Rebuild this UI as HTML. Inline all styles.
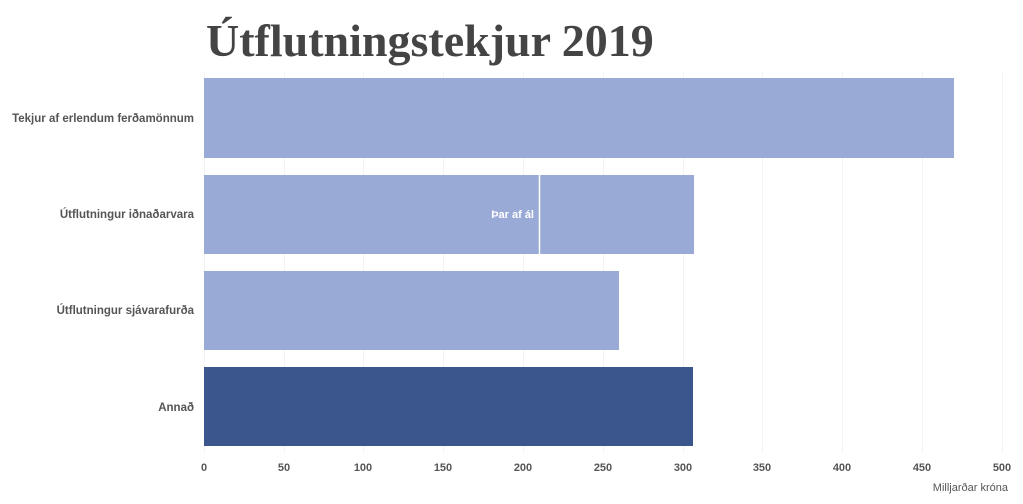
<!DOCTYPE html>
<html><head><meta charset="utf-8"><style>
body{margin:0;background:#fff;width:1023px;height:499px;overflow:hidden}
text{font-family:"Liberation Sans",sans-serif}
</style></head><body>
<svg width="1023" height="499" xmlns="http://www.w3.org/2000/svg">
<text x="206" y="56" font-weight="bold" font-size="46" fill="#444" style="font-family:'Liberation Serif',serif">Útflutningstekjur 2019</text>
<g stroke="#f3f3f3" stroke-width="1">
<line x1="204.5" y1="72" x2="204.5" y2="452"/>
<line x1="284.5" y1="72" x2="284.5" y2="452"/>
<line x1="363.5" y1="72" x2="363.5" y2="452"/>
<line x1="443.5" y1="72" x2="443.5" y2="452"/>
<line x1="523.5" y1="72" x2="523.5" y2="452"/>
<line x1="603.5" y1="72" x2="603.5" y2="452"/>
<line x1="683.5" y1="72" x2="683.5" y2="452"/>
<line x1="762.5" y1="72" x2="762.5" y2="452"/>
<line x1="842.5" y1="72" x2="842.5" y2="452"/>
<line x1="922.5" y1="72" x2="922.5" y2="452"/>
<line x1="1002.5" y1="72" x2="1002.5" y2="452"/>
</g>
<rect x="204" y="78" width="750" height="80" fill="#99aad6"/>
<rect x="204" y="175" width="490" height="79" fill="#99aad6"/>
<line x1="539.5" y1="175" x2="539.5" y2="254" stroke="#fff" stroke-width="1.5"/>
<text x="534" y="218" font-size="11" font-weight="bold" fill="#fff" text-anchor="end">Þar af ál</text>
<rect x="204" y="271" width="415" height="79" fill="#99aad6"/>
<rect x="204" y="367" width="489" height="79" fill="#3b558d"/>
<g font-size="11.5" font-weight="bold" fill="#555" text-anchor="end">
<text x="194" y="122">Tekjur af erlendum ferðamönnum</text>
<text x="194" y="218">Útflutningur iðnaðarvara</text>
<text x="194" y="314">Útflutningur sjávarafurða</text>
<text x="194" y="411">Annað</text>
</g>
<g font-size="11" font-weight="bold" fill="#555" text-anchor="middle">
<text x="204" y="471">0</text><text x="284" y="471">50</text><text x="363" y="471">100</text>
<text x="443" y="471">150</text><text x="523" y="471">200</text><text x="603" y="471">250</text>
<text x="683" y="471">300</text><text x="762" y="471">350</text><text x="842" y="471">400</text>
<text x="922" y="471">450</text><text x="1002" y="471">500</text>
</g>
<text x="1008" y="491" font-size="11" fill="#555" text-anchor="end">Milljarðar króna</text>
</svg>
</body></html>
